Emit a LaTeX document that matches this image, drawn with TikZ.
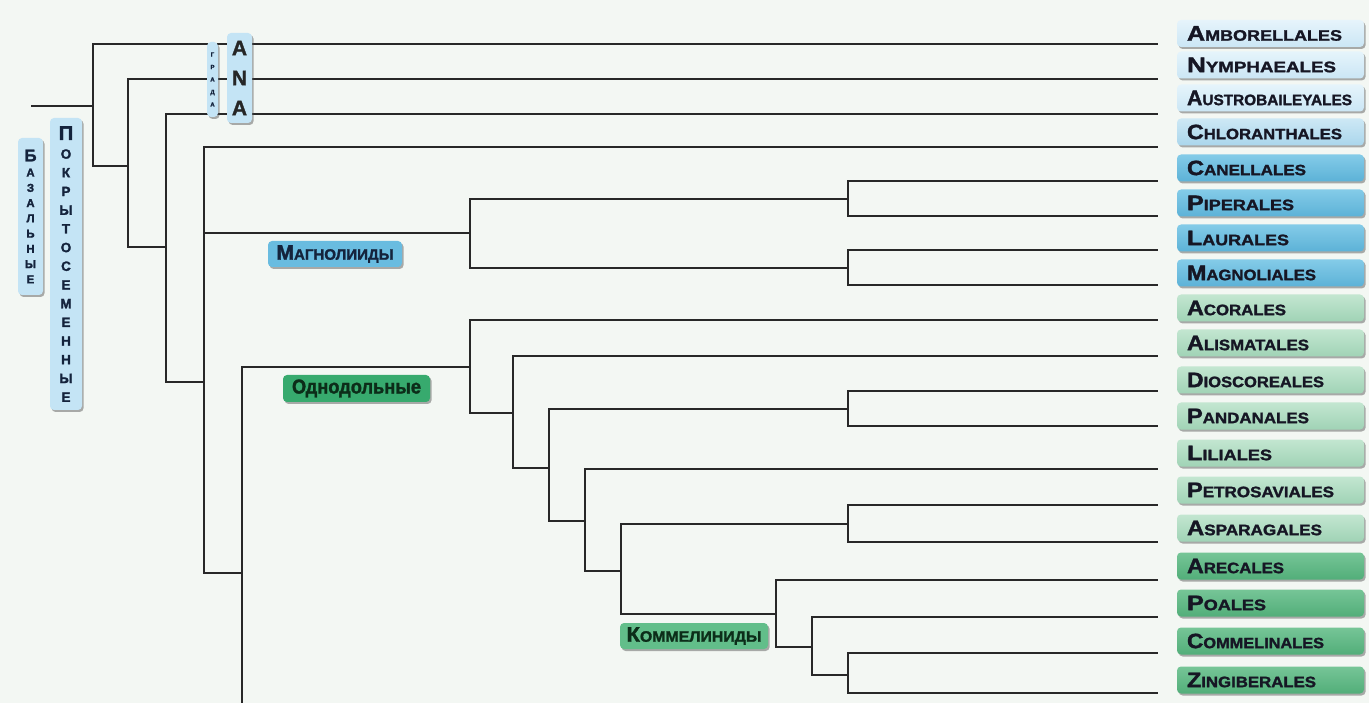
\documentclass[tikz,border=0pt]{standalone}
\usepackage{fontspec}
\setmainfont{Liberation Sans}[BoldFeatures={FakeBold=1.6}]
\usetikzlibrary{shadows}
\definecolor{bg}{RGB}{243,247,243}
\definecolor{linec}{RGB}{40,40,40}
\definecolor{txt}{RGB}{22,22,36}
\definecolor{vlbT}{RGB}{230,244,251}\definecolor{vlbB}{RGB}{203,230,245}
\definecolor{lbT}{RGB}{205,232,245}\definecolor{lbB}{RGB}{170,214,236}
\definecolor{mbT}{RGB}{132,203,232}\definecolor{mbB}{RGB}{92,178,215}
\definecolor{lgT}{RGB}{195,230,209}\definecolor{lgB}{RGB}{160,211,182}
\definecolor{mgT}{RGB}{118,197,151}\definecolor{mgB}{RGB}{82,174,121}
\definecolor{gradc}{RGB}{196,228,245}
\definecolor{magc}{RGB}{105,188,224}
\definecolor{monc}{RGB}{55,170,110}
\definecolor{comc}{RGB}{98,190,138}
\definecolor{navy}{RGB}{20,35,60}
\definecolor{dgreen}{RGB}{12,45,25}
\newcommand{\rlt}[3]{\makebox[167pt][l]{\resizebox{#3pt}{14.5pt}{\bfseries\fontsize{19.5}{19.5}\selectfont #1\fontsize{14}{14}\selectfont #2}}}
\newcommand{\clt}[3]{\resizebox{#3pt}{14.5pt}{\bfseries\fontsize{19.5}{19.5}\selectfont #1\fontsize{14}{14}\selectfont #2}}
\tikzset{
  br/.style={draw=linec, line width=1.9pt, line join=miter},
  shad/.style={drop shadow={shadow xshift=1.6pt, shadow yshift=-2pt, opacity=0.45, fill=black!70}},
  rlab/.style={shad, rounded corners=4pt, minimum width=187pt, minimum height=27pt, inner sep=0pt, text=txt},
  vlb/.style={rlab, top color=vlbT, bottom color=vlbB},
  lb/.style={rlab, top color=lbT, bottom color=lbB},
  mb/.style={rlab, top color=mbT, bottom color=mbB},
  lg/.style={rlab, top color=lgT, bottom color=lgB},
  mg/.style={rlab, top color=mgT, bottom color=mgB},
  vbox/.style={shad, fill=gradc, rounded corners=4pt, inner sep=0pt, align=center, text=navy},
  clade/.style={shad, rounded corners=4pt, inner sep=0pt, minimum height=26pt}
}
\begin{document}
\begin{tikzpicture}[x=1pt,y=-1pt]
\fill[bg] (0,0) rectangle (1369,703);
\useasboundingbox (0,0) rectangle (1369,703);
% leaf ends
\coordinate (e1) at (1158,44);
\coordinate (e2) at (1158,79);
\coordinate (e3) at (1158,114);
\coordinate (e4) at (1158,147);
\coordinate (e5) at (1158,181);
\coordinate (e6) at (1158,216);
\coordinate (e7) at (1158,250);
\coordinate (e8) at (1158,285);
\coordinate (e9) at (1158,320);
\coordinate (e10) at (1158,356);
\coordinate (e11) at (1158,391);
\coordinate (e12) at (1158,426);
\coordinate (e13) at (1158,469);
\coordinate (e14) at (1158,505);
\coordinate (e15) at (1158,542);
\coordinate (e16) at (1158,580);
\coordinate (e17) at (1158,617);
\coordinate (e18) at (1158,653);
\coordinate (e19) at (1158,693);
% internal nodes
\coordinate (r0) at (31,106);
\coordinate (n1) at (93,106);
\coordinate (n2) at (128,166);
\coordinate (n3) at (166,247);
\coordinate (n4) at (204,382);
\coordinate (m1) at (470,233);
\coordinate (m2) at (848,199);
\coordinate (m3) at (848,268);
\coordinate (n5) at (242,573);
\coordinate (eud) at (242,703);
\coordinate (o1) at (470,367);
\coordinate (o2) at (513,413);
\coordinate (o3) at (549,468);
\coordinate (o4) at (848,409);
\coordinate (o5) at (585,521);
\coordinate (o6) at (621,571);
\coordinate (o7) at (848,524);
\coordinate (c1) at (776,614);
\coordinate (c2) at (812,647);
\coordinate (c3) at (848,675);
% branches
\draw[br] (r0) -- (n1);
\draw[br] (n1) |- (e1); \draw[br] (n1) |- (n2);
\draw[br] (n2) |- (e2); \draw[br] (n2) |- (n3);
\draw[br] (n3) |- (e3); \draw[br] (n3) |- (n4);
\draw[br] (n4) |- (e4); \draw[br] (n4) |- (m1); \draw[br] (n4) |- (n5);
\draw[br] (m1) |- (m2); \draw[br] (m1) |- (m3);
\draw[br] (m2) |- (e5); \draw[br] (m2) |- (e6);
\draw[br] (m3) |- (e7); \draw[br] (m3) |- (e8);
\draw[br] (n5) |- (o1); \draw[br] (n5) -- (eud);
\draw[br] (o1) |- (e9); \draw[br] (o1) |- (o2);
\draw[br] (o2) |- (e10); \draw[br] (o2) |- (o3);
\draw[br] (o3) |- (o4); \draw[br] (o3) |- (o5);
\draw[br] (o4) |- (e11); \draw[br] (o4) |- (e12);
\draw[br] (o5) |- (e13); \draw[br] (o5) |- (o6);
\draw[br] (o6) |- (o7); \draw[br] (o6) |- (c1);
\draw[br] (o7) |- (e14); \draw[br] (o7) |- (e15);
\draw[br] (c1) |- (e16); \draw[br] (c1) |- (c2);
\draw[br] (c2) |- (e17); \draw[br] (c2) |- (c3);
\draw[br] (c3) |- (e18); \draw[br] (c3) |- (e19);
% right labels
\node[vlb] (amb) at (1270.5,33.5) {\rlt{A}{MBORELLALES}{155}};
\node[vlb] (nym) at (1270.5,65) {\rlt{N}{YMPHAEALES}{149}};
\node[vlb] (aus) at (1270.5,98) {\rlt{A}{USTROBAILEYALES}{165}};
\node[lb] (chl) at (1270.5,132) {\rlt{C}{HLORANTHALES}{155}};
\node[mb] (can) at (1270.5,168) {\rlt{C}{ANELLALES}{119}};
\node[mb] (pip) at (1270.5,203) {\rlt{P}{IPERALES}{107}};
\node[mb] (lau) at (1270.5,238) {\rlt{L}{AURALES}{102}};
\node[mb] (mag) at (1270.5,273) {\rlt{M}{AGNOLIALES}{129}};
\node[lg] (aco) at (1270.5,308) {\rlt{A}{CORALES}{99}};
\node[lg] (ali) at (1270.5,343) {\rlt{A}{LISMATALES}{122}};
\node[lg] (dio) at (1270.5,380) {\rlt{D}{IOSCOREALES}{137}};
\node[lg] (pan) at (1270.5,416) {\rlt{P}{ANDANALES}{122}};
\node[lg] (lil) at (1270.5,453) {\rlt{L}{ILIALES}{85}};
\node[lg] (pet) at (1270.5,490) {\rlt{P}{ETROSAVIALES}{147}};
\node[lg] (asp) at (1270.5,528) {\rlt{A}{SPARAGALES}{135}};
\node[mg] (are) at (1270.5,566) {\rlt{A}{RECALES}{97}};
\node[mg] (poa) at (1270.5,603) {\rlt{P}{OALES}{79}};
\node[mg] (com) at (1270.5,641) {\rlt{C}{OMMELINALES}{137}};
\node[mg] (zin) at (1270.5,680) {\rlt{Z}{INGIBERALES}{129}};
% clade labels
\node[clade, fill=magc, text=navy, minimum width=134pt] (magn) at (335,254) {\clt{М}{АГНОЛИИДЫ}{117}};
\node[clade, fill=monc, text=dgreen, minimum width=147pt, minimum height=27pt] (mono) at (356.5,388.5) {\resizebox{129pt}{14pt}{\bfseries\fontsize{19}{19}\selectfont Однодольные}};
\node[clade, fill=comc, text=dgreen, minimum width=148pt] (comm) at (694,636) {\clt{К}{ОММЕЛИНИДЫ}{135}};
% vertical labels
\node[vbox, minimum width=25pt, minimum height=157pt, font=\bfseries\fontsize{11.5}{15.25}\selectfont] (baz) at (30.5,216.5)
  {{\fontsize{17}{15.25}\selectfont Б}\\А\\З\\А\\Л\\Ь\\Н\\Ы\\Е};
\node[vbox, minimum width=32pt, minimum height=292pt, font=\bfseries\fontsize{13.5}{18.7}\selectfont] (pok) at (66,264)
  {{\fontsize{20}{18.7}\selectfont П}\\О\\К\\Р\\Ы\\Т\\О\\С\\Е\\М\\Е\\Н\\Н\\Ы\\Е};
\node[vbox, minimum width=11pt, minimum height=75pt, font=\bfseries\fontsize{6}{12.5}\selectfont] (grad) at (212.5,79.5)
  {Г\\Р\\А\\Д\\А};
\node[vbox, minimum width=25pt, minimum height=90pt, font=\bfseries\fontsize{21}{30}\selectfont, text=black!85] (ana) at (239.5,78)
  {A\\N\\A};
\end{tikzpicture}
\end{document}
